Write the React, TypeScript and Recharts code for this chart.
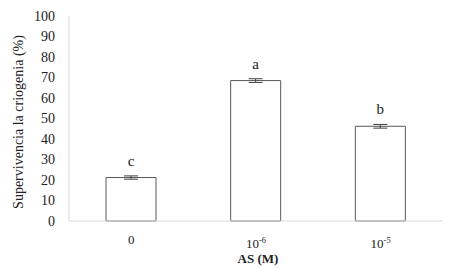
import React from 'react';
import { BarChart, Bar, XAxis, YAxis, ErrorBar, LabelList } from 'recharts';

const categories = ['0', '1e-6', '1e-5'];
const tickBase = ['0', '10', '10'];
const tickExp = ['', '-6', '-5'];
const survival = [21.2, 68.5, 46.2];
const errors = [0.8, 0.9, 0.9];
const letters = ['c', 'a', 'b'];
const yTicks = [0, 10, 20, 30, 40, 50, 60, 70, 80, 90, 100];

const data = categories.map((c, i) => ({
  name: c,
  value: survival[i],
  err: errors[i],
  letter: letters[i],
}));

if (typeof document !== 'undefined') document.body.style.margin = '0';

const FONT = '"Liberation Serif", "Times New Roman", serif';

const XTick = (props: any) => {
  const { x, y, payload } = props;
  const i = categories.indexOf(payload.value);
  const hasExp = !!tickExp[i];
  return (
    <text x={x} y={y + (hasExp ? 19 : 15)} textAnchor="middle" fontFamily={FONT} fontSize={13} fill="#222">
      <tspan>{tickBase[i]}</tspan>
      {hasExp && (
        <tspan fontSize={8.5} dy={-5}>{tickExp[i]}</tspan>
      )}
    </text>
  );
};

const App: React.FC = () => {
  return (
    <div style={{ width: 450, height: 269, background: '#fff' }}>
      <BarChart width={450} height={269} data={data} margin={{ top: 16, right: 7, left: 0, bottom: 0 }}>
        <XAxis
          dataKey="name"
          height={48}
          axisLine={{ stroke: '#d9d9d9' }}
          tickLine={false}
          tick={<XTick />}
          interval={0}
          label={{
            content: () => (
              <text x={258} y={263} textAnchor="middle" fontFamily={FONT} fontSize={13} fontWeight="bold" fill="#222">
                AS (M)
              </text>
            ),
          }}
        />
        <YAxis
          width={69}
          domain={[0, 100]}
          ticks={yTicks}
          interval={0}
          axisLine={{ stroke: '#d9d9d9' }}
          tickLine={false}
          tickSize={0}
          tickMargin={14}
          tick={{ fontFamily: FONT, fontSize: 14, fill: '#222' }}
          label={{
            content: () => (
              <text
                x={18}
                y={122}
                transform="rotate(-90, 18, 122)"
                textAnchor="middle"
                dominantBaseline="central"
                fontFamily={FONT}
                fontSize={14}
                fill="#222"
              >
                Supervivencia la criogenia (%)
              </text>
            ),
          }}
        />
        <Bar dataKey="value" barSize={50} fill="#fff" stroke="#595959" strokeWidth={1} isAnimationActive={false}>
          <ErrorBar dataKey="err" width={7} stroke="#404040" strokeWidth={1} />
          <LabelList dataKey="letter" position="top" offset={12} style={{ fontFamily: FONT, fontSize: 15, fill: '#222' }} />
        </Bar>
      </BarChart>
    </div>
  );
};

export default App;
